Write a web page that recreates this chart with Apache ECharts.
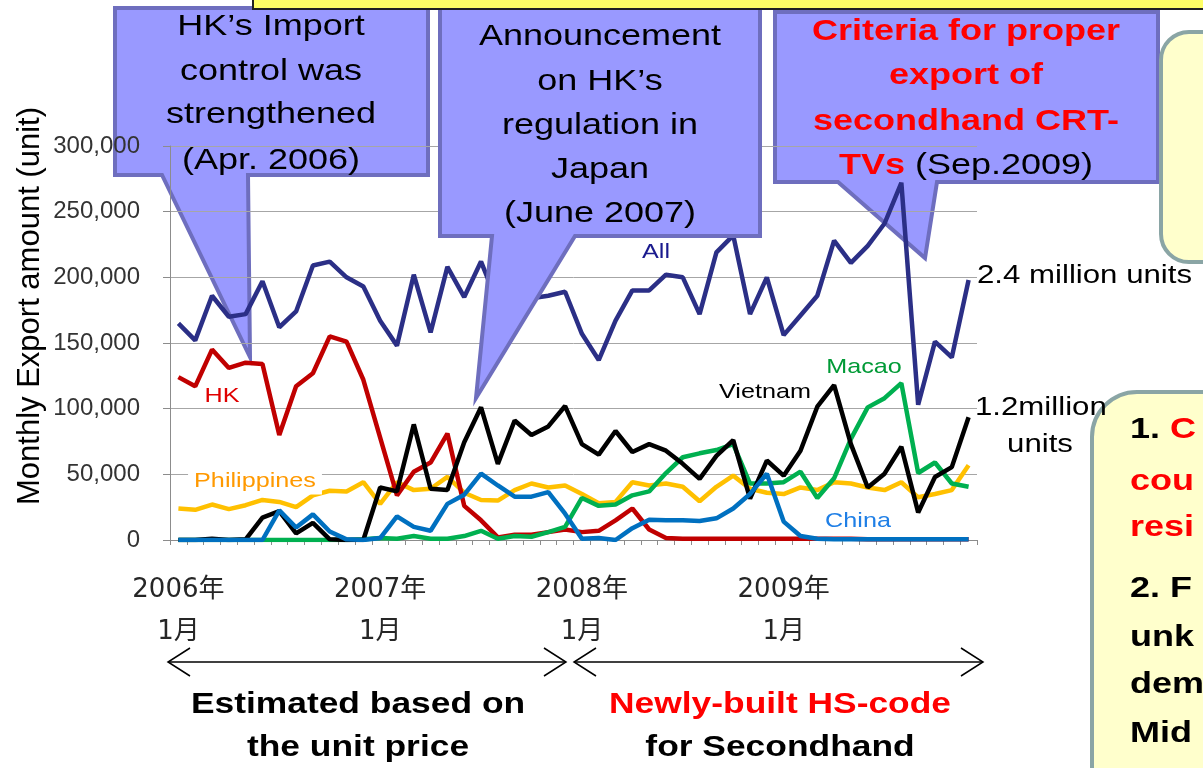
<!DOCTYPE html>
<html>
<head>
<meta charset="utf-8">
<title>Monthly export of secondhand CRT-TVs</title>
<script src="https://cdn.jsdelivr.net/npm/echarts@6/dist/echarts.min.js"></script>
<style>
  body { margin: 0; background: #fff; }
  #main { width: 1203px; height: 768px; }
</style>
</head>
<body>
<div id="main"></div>
<script>
// tick labels / categories
var years = ['2006年', '2007年', '2008年', '2009年'];
var monthLabel = '1月';
var months = [];
for (var yy = 0; yy < years.length; yy++) {
  for (var mm = 1; mm <= 12; mm++) months.push(years[yy] + mm + '月');
}

// monthly export amount (unit), Jan 2006 - Dec 2009
var allData = [165000,152000,186000,170000,172000,197000,162000,174000,209000,212000,200000,193000,
               167000,148000,202000,158000,208000,185000,212000,180000,195000,184000,186000,189000,
               157000,137000,167000,190000,190000,202000,200000,172000,219000,232000,172000,200000,
               156000,171000,186000,228000,211000,224000,241000,272000,103000,151000,139000,198000];
var hk = [124000,117000,145000,131000,135000,134000,80000,117000,127000,155000,151000,122000,
          78000,34000,52000,59000,81000,26000,15000,2000,4000,4000,6000,8000,
          6000,7000,15000,24000,8000,1500,1000,1000,1000,1000,1000,1000,
          1000,1000,1000,1000,1000,500,500,500,500,500,500,500];
var philippines = [24000,23000,27000,23500,26500,30500,29000,25000,34000,37500,37000,44000,
                   27500,44000,38000,39000,48000,36000,30500,30000,38000,43000,40000,41500,
                   35000,28000,29000,44000,41500,43000,40500,29500,40500,49000,39000,36000,
                   35000,40000,38000,44000,43000,40000,38000,44000,32500,35000,38000,57000];
var vietnam = [0,0,1000,0,500,17000,22000,5000,13000,500,0,0,
               40000,37000,88000,39000,38000,74500,101000,58000,91000,80000,86500,102000,
               73000,65000,83000,67000,73000,68000,58000,46500,64000,76000,31500,60500,
               49000,68000,101500,118000,73000,40000,50500,71000,21000,48000,55500,93500];
var macao = [0,0,0,0,0,0,0,0,0,0,0,500,
             1500,1000,3000,1000,1000,3000,7000,1000,3000,2500,6000,10000,
             32000,26000,27000,34000,37000,51000,63000,66000,68500,73000,43000,43000,
             44000,52000,32000,47000,77000,101000,108000,119500,51000,59000,43000,40500];
var china = [0,0,0,0,0,0,22500,9500,19500,6500,500,0,
             1500,18000,10000,7000,27500,34500,50500,41500,33000,33000,36500,20000,
             1000,1500,0,9000,15500,15000,15000,14500,16500,24000,35000,50500,
             14000,3000,1000,500,500,500,500,500,500,500,500,500];

var FONT = '"Liberation Sans", Arial, sans-serif';

// text helper, slide text is a bit stretched sideways
function txt(x, y, text, o) {
  o = o || {};
  var st = {
    text: text, x: 0, y: 0,
    fill: o.color || '#000',
    font: (o.bold ? 'bold ' : '') + (o.size || 30) + 'px ' + FONT,
    align: o.align || 'center', verticalAlign: 'middle',
    textAlign: o.align || 'center', textVerticalAlign: 'middle'
  };
  if (o.bg) { st.backgroundColor = o.bg; st.padding = o.pad || [2, 4]; }
  if (o.rich) st.rich = o.rich;
  return { type: 'text', x: x, y: y, scaleX: o.sx || 1.2, rotation: o.rot || 0, z: o.z || 20, silent: true, style: st };
}

function callout(points, z) {
  return { type: 'polygon', z: z, silent: true,
    shape: { points: points },
    style: { fill: '#9999FF', stroke: '#6E6EBE', lineWidth: 4, lineJoin: 'miter' } };
}

function arrow(x1, x2, y) {
  var s = { stroke: '#000', lineWidth: 1.5, fill: null };
  return [
    { type: 'polyline', z: 20, silent: true, shape: { points: [[x1, y], [x2, y]] }, style: s },
    { type: 'polyline', z: 20, silent: true, shape: { points: [[x1 + 22, y - 14], [x1, y], [x1 + 22, y + 14]] }, style: s },
    { type: 'polyline', z: 20, silent: true, shape: { points: [[x2 - 22, y - 14], [x2, y], [x2 - 22, y + 14]] }, style: s }
  ];
}

var red = '#FF0000';
var graphics = [
  // yellow title box edge at the top
  { type: 'rect', z: 15, silent: true, shape: { x: 253, y: -20, width: 1000, height: 29 },
    style: { fill: '#FFFF66', stroke: '#222', lineWidth: 2 } },
  // callouts
  callout([[115,8],[428,8],[428,175],[248,175],[250,357],[162,175],[115,175]], 0),
  callout([[440,8],[760,8],[760,236],[575,236],[476,398],[492,236],[440,236]], 12),
  callout([[775,12],[1158,12],[1158,182],[937,182],[925,258],[838,182],[775,182]], 0),
  // yellow note boxes on the right
  { type: 'rect', z: 12, silent: true, shape: { x: 1161, y: 32, width: 120, height: 230, r: 28 },
    style: { fill: '#FFFFCC', stroke: '#8AA5A5', lineWidth: 4 } },
  { type: 'rect', z: 12, silent: true, shape: { x: 1092, y: 392, width: 200, height: 450, r: 45 },
    style: { fill: '#FFFFCC', stroke: '#8AA5A5', lineWidth: 4 } },

  txt(271, 27, 'HK\u2019s Import', { z: 1 }),
  txt(271, 72, 'control was', { z: 1 }),
  txt(271, 115, 'strengthened', { z: 1 }),
  txt(271, 161, '(Apr. 2006)', { z: 1 }),

  txt(600, 37, 'Announcement'),
  txt(600, 82, 'on HK\u2019s'),
  txt(600, 126, 'regulation in'),
  txt(600, 170, 'Japan'),
  txt(600, 214, '(June 2007)'),

  txt(966, 32, 'Criteria for proper', { bold: true, color: red, z: 1 }),
  txt(966, 76, 'export of', { bold: true, color: red, z: 1 }),
  txt(966, 122, 'secondhand CRT-', { bold: true, color: red, z: 1 }),
  txt(966, 166, '{r|TVs} (Sep.2009)', { z: 1,
    rich: { r: { fill: red, fontWeight: 'bold', fontSize: 30, fontFamily: FONT } } }),

  // series labels
  txt(656, 252, 'All', { size: 21, color: '#1B1B8E' }),
  txt(222, 396, 'HK', { size: 21, color: '#E00000' }),
  txt(255, 481, 'Philippines', { size: 21, color: '#FF9900', bg: '#fff', pad: [3, 5] }),
  txt(765, 392, 'Vietnam', { size: 21, color: '#000', bg: '#fff', pad: [2, 3] }),
  txt(864, 367, 'Macao', { size: 21, color: '#009A36' }),
  txt(858, 521, 'China', { size: 21, color: '#1F7FE6' }),

  txt(977, 276, '2.4 million units', { size: 26, align: 'left' }),
  txt(975, 408, '1.2million', { size: 26, align: 'left' }),
  txt(1040, 445, 'units', { size: 26 }),

  // y axis title
  txt(30, 306, 'Monthly Export amount (unit)', { size: 31, sx: 1, rot: Math.PI / 2 }),

  // bottom notes
  txt(358, 705, 'Estimated based on', { bold: true, size: 29, sx: 1.22 }),
  txt(358, 748, 'the unit price', { bold: true, size: 29, sx: 1.22 }),
  txt(780, 705, 'Newly-built HS-code', { bold: true, size: 29, sx: 1.22, color: red }),
  txt(780, 748, 'for Secondhand', { bold: true, size: 29, sx: 1.22 }),

  // right note box text (cut off by the page edge)
  txt(1130, 430, '1. {r|C}', { bold: true, size: 30, align: 'left',
    rich: { r: { fill: red, fontWeight: 'bold', fontSize: 30, fontFamily: FONT } } }),
  txt(1130, 482, 'cou', { bold: true, size: 30, align: 'left', color: red }),
  txt(1130, 528, 'resi', { bold: true, size: 30, align: 'left', color: red }),
  txt(1130, 589, '2. F', { bold: true, size: 30, align: 'left' }),
  txt(1130, 638, 'unk', { bold: true, size: 30, align: 'left' }),
  txt(1130, 685, 'dem', { bold: true, size: 30, align: 'left' }),
  txt(1130, 734, 'Mid', { bold: true, size: 30, align: 'left' })
].concat(arrow(168, 566, 662), arrow(574, 983, 662));

function lineSeries(name, data, color, z) {
  return {
    name: name, type: 'line', data: data, z: z,
    symbol: 'none', showSymbol: false, silent: true,
    lineStyle: { color: color, width: 4.5 }, itemStyle: { color: color }
  };
}

var chart = echarts.init(document.getElementById('main'));
chart.setOption({
  animation: false,
  backgroundColor: '#fff',
  grid: { left: 170, right: 226, top: 146, bottom: 228 },
  xAxis: {
    type: 'category', data: months, boundaryGap: true, z: 1,
    axisLine: { lineStyle: { color: '#8C8C8C', width: 1 } },
    axisTick: { show: true, interval: 0, length: 5, lineStyle: { color: '#8C8C8C' } },
    axisLabel: {
      interval: 0, margin: 29, fontSize: 26, lineHeight: 42, color: '#262626',
      fontFamily: '"DejaVu Sans", "Noto Sans CJK JP", sans-serif',
      formatter: function (v, i) { return i % 12 === 0 ? years[i / 12] + '\n' + monthLabel : ''; }
    },
    splitLine: { show: false }
  },
  yAxis: {
    type: 'value', min: 0, max: 300000, interval: 50000, z: 1,
    axisLine: { show: true, lineStyle: { color: '#8C8C8C' } },
    axisTick: { show: true, length: 7, lineStyle: { color: '#8C8C8C' } },
    axisLabel: {
      margin: 30, fontSize: 24, color: '#333', fontFamily: FONT,
      formatter: function (v) { return String(v).replace(/\B(?=(\d{3})+(?!\d))/g, ','); }
    },
    splitLine: { lineStyle: { color: '#A6A6A6', width: 1 } }
  },
  series: [
    lineSeries('Philippines', philippines, '#FFC000', 2),
    lineSeries('HK', hk, '#C00000', 3),
    lineSeries('Macao', macao, '#00B050', 4),
    lineSeries('Vietnam', vietnam, '#000000', 5),
    lineSeries('China', china, '#0070C0', 6),
    lineSeries('All', allData, '#2B2F86', 7)
  ],
  graphic: { elements: graphics }
});
</script>
</body>
</html>
